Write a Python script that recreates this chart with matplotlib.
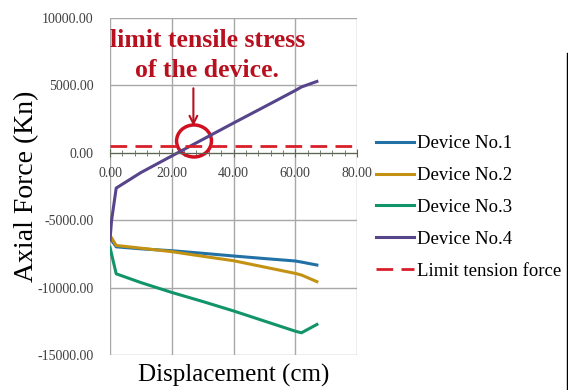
import matplotlib.pyplot as plt
from matplotlib.patches import Ellipse
from matplotlib.ticker import MultipleLocator, FormatStrFormatter
from matplotlib.lines import Line2D

# displacement (cm)
disp = [0, 2, 10, 20, 30, 40, 50, 60, 62, 67]
device1 = [-6300, -6950, -7100, -7240, -7430, -7630, -7820, -8000, -8080, -8300]
device2 = [-6100, -6850, -7050, -7310, -7650, -7980, -8450, -8920, -9040, -9530]
device3 = [-7000, -8950, -9600, -10330, -11000, -11700, -12450, -13200, -13320, -12700]
disp4 = [0, 0.5, 2, 10, 20, 30, 40, 50, 60, 62, 67]
device4 = [-6400, -5000, -2600, -1450, -220, 1000, 2220, 3420, 4630, 4890, 5300]
limit_force = 500

plt.rcParams['font.family'] = ['Liberation Serif', 'DejaVu Serif']

fig = plt.figure(figsize=(5.68, 3.9), dpi=100)
ax = fig.add_axes([0.1937, 0.0885, 0.4349, 0.8654])

ax.plot(disp, device1, color='#2171a6', lw=2.2, label='Device No.1')
ax.plot(disp, device2, color='#c39213', lw=2.2, label='Device No.2')
ax.plot(disp, device3, color='#12946a', lw=2.2, label='Device No.3')
ax.plot(disp4, device4, color='#57458c', lw=2.2, label='Device No.4')
ax.axhline(limit_force, color='#d81f2a', lw=2, dashes=(6, 3), label='Limit tension force')

ax.set_xlim(0, 80)
ax.set_ylim(-15000, 10000)
ax.xaxis.set_major_locator(MultipleLocator(20))
ax.xaxis.set_minor_locator(MultipleLocator(4))
ax.yaxis.set_major_locator(MultipleLocator(5000))
ax.xaxis.set_major_formatter(FormatStrFormatter('%.2f'))
ax.yaxis.set_major_formatter(FormatStrFormatter('%.2f'))

ax.grid(True, color='#a8a8a8', lw=1)
ax.set_axisbelow(True)
for s in ['top', 'right', 'left']:
    ax.spines[s].set_visible(False)
ax.spines['bottom'].set_position(('data', 0))
ax.spines['bottom'].set_color('#5a6650')
ax.tick_params(axis='x', which='major', direction='inout', length=6, color='#5a6650',
               labelsize=10, labelcolor='#404040', pad=7)
ax.tick_params(axis='x', which='minor', direction='inout', length=5, color='#5a6650')
ax.tick_params(axis='y', length=0, labelsize=10, labelcolor='#404040', pad=12)

ax.set_xlabel('Displacement (cm)', fontsize=18)
ax.xaxis.set_label_coords(0.5, -0.026)
ax.set_ylabel('Axial Force (Kn)', fontsize=20)
ax.yaxis.set_label_coords(-0.285, 0.5)

# annotation
ax.text(31.5, 7250, 'limit tensile stress\nof the device.', ha='center', va='center',
        fontsize=18.5, fontweight='bold', color='#b8101f', linespacing=1.38)
ax.annotate('', xy=(27, 1800), xytext=(27, 5000),
            arrowprops=dict(arrowstyle='->', color='#b8101f', lw=1.5, mutation_scale=14))
ax.add_patch(Ellipse((27.2, 890), 11.3, 2370, fill=False, ec='#d01020', lw=2.5))

leg = ax.legend(loc='upper left', bbox_to_anchor=(376 / 568, 1 - 135 / 390),
                bbox_transform=fig.transFigure, frameon=False, fontsize=13.5,
                handlelength=2.0, handletextpad=0.2, labelspacing=0.79,
                borderpad=0, borderaxespad=0)

# page border line on the right edge of the screenshot
fig.add_artist(Line2D([566.5 / 568, 566.5 / 568], [0, 1 - 53 / 390], color='black', lw=1))

fig.savefig('out.png', dpi=100)
